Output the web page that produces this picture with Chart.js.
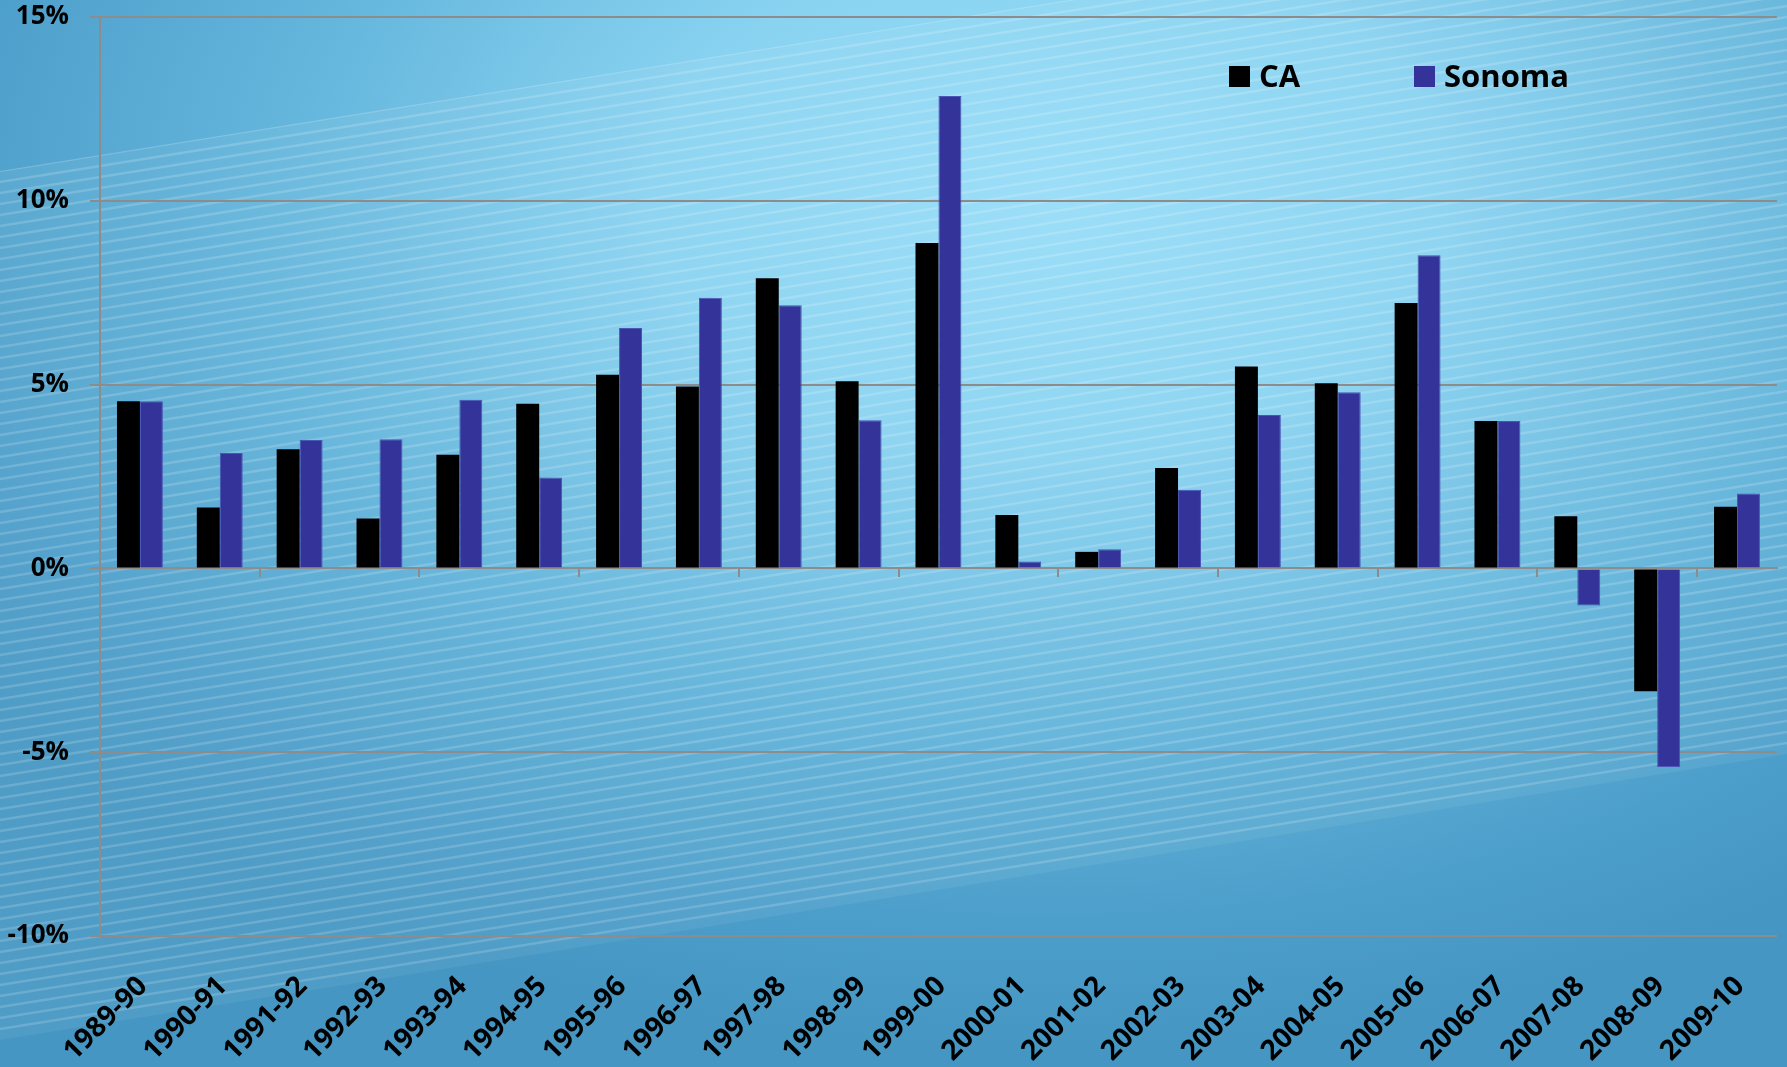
<!DOCTYPE html>
<html>
<head>
<meta charset="utf-8">
<script src="https://cdn.jsdelivr.net/npm/chart.js@4"></script>
<style>
  html, body { margin: 0; padding: 0; background: #4a9ecb; }
  #wrap { position: relative; width: 1787px; height: 1067px; }
  .key { position: absolute; top: 66px; width: 21px; height: 21px; }
  .keytext { position: absolute; top: 60px; font: bold 31px/31px "Open Sans", sans-serif; color: #000; }
</style>
</head>
<body>
<div id="wrap">
  <canvas id="myChart" width="1787" height="1067"></canvas>
  <div id="legend"></div>
</div>
<script>
const ctx = document.getElementById('myChart');

// fiscal years
const years = ['1989-90', '1990-91', '1991-92', '1992-93', '1993-94', '1994-95', '1995-96',
    '1996-97', '1997-98', '1998-99', '1999-00', '2000-01', '2001-02', '2002-03', '2003-04',
    '2004-05', '2005-06', '2006-07', '2007-08', '2008-09', '2009-10'];

// annual change, percent
const caValues = [4.55, 1.66, 3.24, 1.36, 3.09, 4.48, 5.27, 4.95, 7.89, 5.09, 8.85,
    1.45, 0.45, 2.73, 5.49, 5.04, 7.22, 4.01, 1.42, -3.34, 1.68];
const sonomaValues = [4.55, 3.14, 3.49, 3.51, 4.59, 2.47, 6.54, 7.36, 7.16, 4.03, 12.85,
    0.19, 0.52, 2.14, 4.17, 4.79, 8.52, 4.01, -1.01, -5.40, 2.04];

const seriesNames = ['CA', 'Sonoma'];
const seriesColors = ['#000000', '#333399'];

const yTicks = [-10, -5, 0, 5, 10, 15];

const gridGray = '#8c8c8c';
const labelFont = { family: '"Open Sans", sans-serif', size: 26, weight: 'bold' };
const yearFont = { family: '"Open Sans", sans-serif', size: 28, weight: 'bold' };

// legend sits inside the plot, top right
const legendX = [1229, 1414];
const legendEl = document.getElementById('legend');
seriesNames.forEach(function (name, i) {
    const sq = document.createElement('div');
    sq.className = 'key';
    sq.style.left = legendX[i] + 'px';
    sq.style.background = seriesColors[i];
    legendEl.appendChild(sq);
    const t = document.createElement('div');
    t.className = 'keytext';
    t.style.left = (legendX[i] + 30) + 'px';
    t.textContent = name;
    legendEl.appendChild(t);
});

// blue slide background with a striped diagonal sheen
const backdrop = {
    id: 'backdrop',
    beforeDraw(chart) {
        const c = chart.ctx;
        const w = chart.width, h = chart.height;
        c.save();
        c.translate(1050, 200);
        c.scale(1, 850 / 1300);
        const g = c.createRadialGradient(0, 0, 0, 0, 0, 1300);
        g.addColorStop(0, '#96dcf8');
        g.addColorStop(0.3, '#89d3f1');
        g.addColorStop(0.6, '#63b5dc');
        g.addColorStop(0.85, '#4d9fcb');
        g.addColorStop(1, '#4596c3');
        c.fillStyle = g;
        c.fillRect(-3000, -3000, 6000, 6000);
        c.restore();

        c.save();
        const slope = -0.16;
        c.beginPath();
        c.moveTo(0, 171);
        c.lineTo(w, 171 + slope * w);
        c.lineTo(w, 1040 + slope * w);
        c.lineTo(0, 1040);
        c.closePath();
        c.clip();
        c.fillStyle = 'rgba(255,255,255,0.06)';
        c.fillRect(0, 0, w, h);
        c.strokeStyle = 'rgba(255,255,255,0.17)';
        c.lineWidth = 2.5;
        for (let y = 171; y < 1040; y += 11) {
            c.beginPath();
            c.moveTo(0, y);
            c.lineTo(w, y + slope * w);
            c.stroke();
        }
        c.restore();
    }
};

new Chart(ctx, {
    type: 'bar',
    data: {
        labels: years,
        datasets: [{
            label: seriesNames[0],
            data: caValues,
            backgroundColor: seriesColors[0],
            borderWidth: 0
        }, {
            label: seriesNames[1],
            data: sonomaValues,
            backgroundColor: seriesColors[1],
            borderColor: '#4a56b4',
            borderWidth: 1
        }]
    },
    options: {
        responsive: false,
        devicePixelRatio: 1,
        animation: false,
        datasets: {
            bar: { categoryPercentage: 0.575, barPercentage: 1 }
        },
        layout: { padding: { top: 17, right: 10, left: 0, bottom: 0 } },
        plugins: {
            legend: { display: false },
            tooltip: { enabled: false }
        },
        scales: {
            // category axis drawn along the zero line, tick marks every second boundary
            x: {
                type: 'category',
                position: { y: 0 },
                offset: true,
                grid: {
                    offset: true,
                    drawOnChartArea: false,
                    drawTicks: true,
                    tickLength: 8,
                    lineWidth: 2,
                    color: function (c) {
                        return (c.index > 0 && c.index % 2 === 0) ? gridGray : 'rgba(0,0,0,0)';
                    }
                },
                border: { display: true, color: gridGray, width: 2 },
                ticks: { display: false }
            },
            // year labels along the bottom edge
            x2: {
                type: 'category',
                position: 'bottom',
                offset: true,
                grid: { display: false },
                border: { display: false },
                ticks: {
                    minRotation: 45,
                    maxRotation: 45,
                    autoSkip: false,
                    padding: 26,
                    labelOffset: 3,
                    color: '#000',
                    font: yearFont
                },
                afterFit: function (scale) { scale.height = 131; }
            },
            y: {
                min: -10,
                max: 15,
                afterBuildTicks: function (scale) {
                    scale.ticks = yTicks.map(function (v) { return { value: v }; });
                },
                grid: {
                    color: gridGray,
                    lineWidth: 2,
                    tickLength: 10
                },
                border: { display: true, color: gridGray, width: 2 },
                ticks: {
                    padding: 21,
                    color: '#000',
                    font: labelFont,
                    callback: function (v) { return v + '%'; }
                },
                afterFit: function (scale) {
                    scale.width = 100;
                    scale.paddingTop = 0;
                    scale.paddingBottom = 0;
                }
            }
        }
    },
    plugins: [backdrop]
});
</script>
</body>
</html>
